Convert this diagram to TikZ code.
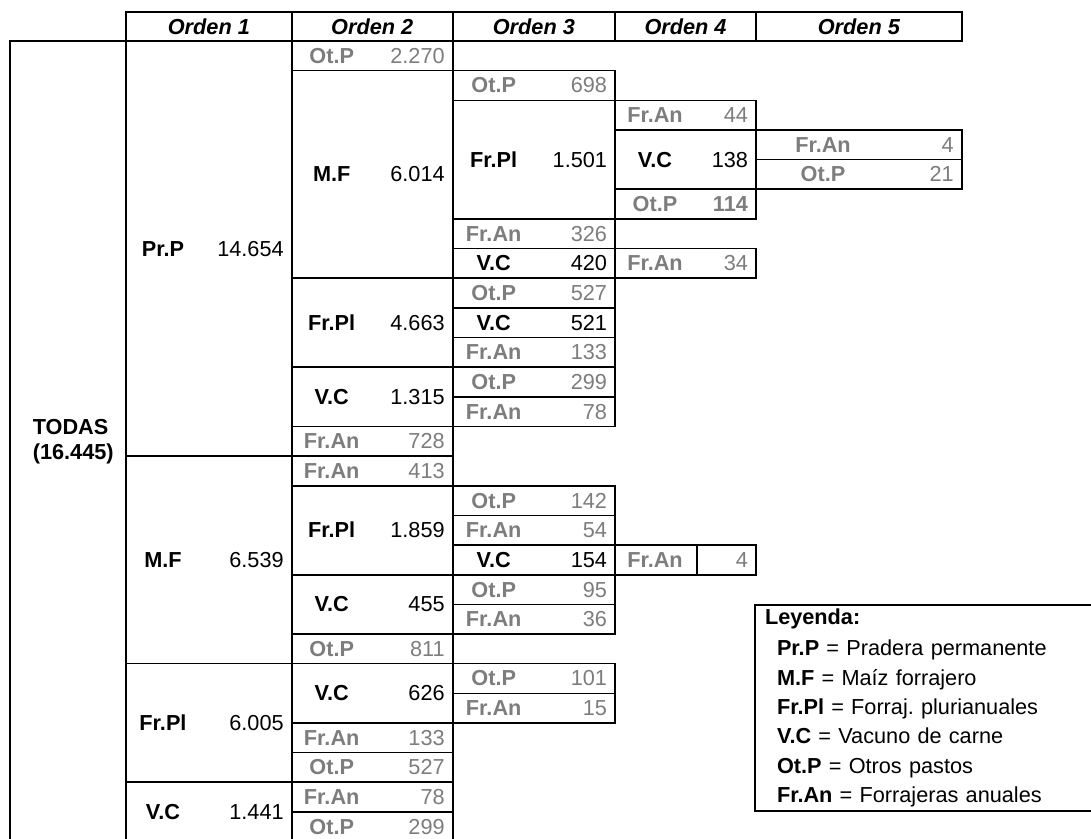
\documentclass[tikz,border=0pt]{standalone}
\usepackage{fontspec}
\setmainfont{Liberation Sans}
\usepackage{xcolor}
\usepackage{tikz}
\usetikzlibrary{positioning}
\definecolor{gris}{RGB}{125,125,125}
\newcommand{\tabla}{\fontsize{21.7pt}{25pt}\selectfont}
\newcommand{\leyfont}{\fontsize{21.7pt}{29.4pt}\selectfont}
\newlength{\fila}
\setlength{\fila}{29.65pt}
\newlength{\anchoetq}
\newcommand{\etq}[1]{\makebox[\anchoetq][c]{\bfseries #1}\hfill}
\frenchspacing

\begin{document}
\begin{tikzpicture}[x=1pt, y=-1pt, line width=1.6pt,
    celda/.style={draw, rectangle, anchor=north west, outer sep=0pt, inner xsep=8pt,
                  inner ysep=0pt, minimum height=\fila, font=\tabla},
    filas/.style={minimum height=#1\fila},
    o1/.style={celda, minimum width=165.7pt, text width=149.7pt,
               execute at begin node={\setlength{\anchoetq}{58pt}}},
    o2/.style={celda, minimum width=161pt, text width=145pt,
               execute at begin node={\setlength{\anchoetq}{64pt}}},
    o3/.style={celda, minimum width=162.3pt, text width=146.3pt,
               execute at begin node={\setlength{\anchoetq}{66pt}}},
    o4/.style={celda, minimum width=141pt, text width=125pt,
               execute at begin node={\setlength{\anchoetq}{64pt}}},
    o5/.style={celda, minimum width=205.7pt, text width=189.7pt,
               execute at begin node={\setlength{\anchoetq}{118pt}}},
    hoja/.style={text=gris},
    cabecera/.style={draw, rectangle, anchor=north west, outer sep=0pt, inner sep=0pt,
                     minimum height=29pt, font=\tabla\bfseries\itshape}]

\path[use as bounding box, clip] (0,0) rectangle (1091,838);

% Cabecera
\node (cab1) [cabecera, minimum width=165.7pt] at (126,12)       {Orden 1};
\node (cab2) [cabecera, minimum width=161pt]   at (cab1.north east) {Orden 2};
\node (cab3) [cabecera, minimum width=162.3pt] at (cab2.north east) {Orden 3};
\node (cab4) [cabecera, minimum width=141pt]   at (cab3.north east) {Orden 4};
\node (cab5) [cabecera, minimum width=205.7pt] at (cab4.north east) {Orden 5};

% Raiz
\node (todas) [celda, minimum width=116pt, filas=27,
    label={[anchor=west, xshift=22pt, inner sep=0pt, align=left, font=\tabla\bfseries]west:TODAS\\(16.445)}]
    at (10,41) {};

% Orden 1
\node (pr) [o1, filas=14] at (todas.north east) {\etq{Pr.P}14.654};
\node (mf) [o1, filas=7]  at (pr.south west)    {\etq{M.F}6.539};
\node (pl) [o1, filas=4]  at (mf.south west)    {\etq{Fr.Pl}6.005};
\node (vc) [o1, filas=2]  at (pl.south west)    {\etq{V.C}1.441};

% Orden 2
\node (pr-ot) [o2, hoja]    at (pr.north east)    {\etq{Ot.P}2.270};
\node (pr-mf) [o2, filas=7] at (pr-ot.south west) {\etq{M.F}6.014};
\node (pr-pl) [o2, filas=3] at (pr-mf.south west) {\etq{Fr.Pl}4.663};
\node (pr-vc) [o2, filas=2] at (pr-pl.south west) {\etq{V.C}1.315};
\node (pr-an) [o2, hoja]    at (pr-vc.south west) {\etq{Fr.An}728};

\node (mf-an) [o2, hoja]    at (mf.north east)    {\etq{Fr.An}413};
\node (mf-pl) [o2, filas=3] at (mf-an.south west) {\etq{Fr.Pl}1.859};
\node (mf-vc) [o2, filas=2] at (mf-pl.south west) {\etq{V.C}455};
\node (mf-ot) [o2, hoja]    at (mf-vc.south west) {\etq{Ot.P}811};

\node (pl-vc) [o2, filas=2] at (pl.north east)    {\etq{V.C}626};
\node (pl-an) [o2, hoja]    at (pl-vc.south west) {\etq{Fr.An}133};
\node (pl-ot) [o2, hoja]    at (pl-an.south west) {\etq{Ot.P}527};

\node (vc-an) [o2, hoja]    at (vc.north east)    {\etq{Fr.An}78};
\node (vc-ot) [o2, hoja]    at (vc-an.south west) {\etq{Ot.P}299};

% Orden 3
\node (pr-mf-ot) [o3, hoja]    at (pr-mf.north east)    {\etq{Ot.P}698};
\node (pr-mf-pl) [o3, filas=4] at (pr-mf-ot.south west) {\etq{Fr.Pl}1.501};
\node (pr-mf-an) [o3, hoja]    at (pr-mf-pl.south west) {\etq{Fr.An}326};
\node (pr-mf-vc) [o3]          at (pr-mf-an.south west) {\etq{V.C}420};

\node (pr-pl-ot) [o3, hoja] at (pr-pl.north east)    {\etq{Ot.P}527};
\node (pr-pl-vc) [o3]       at (pr-pl-ot.south west) {\etq{V.C}521};
\node (pr-pl-an) [o3, hoja] at (pr-pl-vc.south west) {\etq{Fr.An}133};

\node (pr-vc-ot) [o3, hoja] at (pr-vc.north east)    {\etq{Ot.P}299};
\node (pr-vc-an) [o3, hoja] at (pr-vc-ot.south west) {\etq{Fr.An}78};

\node (mf-pl-ot) [o3, hoja] at (mf-pl.north east)    {\etq{Ot.P}142};
\node (mf-pl-an) [o3, hoja] at (mf-pl-ot.south west) {\etq{Fr.An}54};
\node (mf-pl-vc) [o3]       at (mf-pl-an.south west) {\etq{V.C}154};

\node (mf-vc-ot) [o3, hoja] at (mf-vc.north east)    {\etq{Ot.P}95};
\node (mf-vc-an) [o3, hoja] at (mf-vc-ot.south west) {\etq{Fr.An}36};

\node (pl-vc-ot) [o3, hoja] at (pl-vc.north east)    {\etq{Ot.P}101};
\node (pl-vc-an) [o3, hoja] at (pl-vc-ot.south west) {\etq{Fr.An}15};

% Orden 4
\node (pr-mf-pl-an) [o4, hoja]    at (pr-mf-pl.north east)    {\etq{Fr.An}44};
\node (pr-mf-pl-vc) [o4, filas=2] at (pr-mf-pl-an.south west) {\etq{V.C}138};
\node (pr-mf-pl-ot) [o4, hoja]    at (pr-mf-pl-vc.south west) {\etq{Ot.P}\textbf{114}};

\node (pr-mf-vc-an) [o4, hoja] at (pr-mf-vc.north east) {\etq{Fr.An}34};

\node (mf-pl-vc-an) [o4, hoja] at (mf-pl-vc.north east) {\etq{Fr.An}4};
\draw ([xshift=81.7pt]mf-pl-vc-an.north west) -- ([xshift=81.7pt]mf-pl-vc-an.south west);

% Orden 5
\node (pr-mf-pl-vc-an) [o5, hoja] at (pr-mf-pl-vc.north east)    {\etq{Fr.An}4};
\node (pr-mf-pl-vc-ot) [o5, hoja] at (pr-mf-pl-vc-an.south west) {\etq{Ot.P}21};

% Leyenda
\node (leyenda) [draw, rectangle, anchor=north west, outer sep=0pt, inner xsep=10pt, inner ysep=0pt,
    text width=380pt, minimum height=205.7pt, align=left, font=\leyfont] at (755,605)
    {\textbf{Leyenda:}\\[2pt]
     \hspace*{12pt}\textbf{Pr.P} = Pradera permanente\\
     \hspace*{12pt}\textbf{M.F} = Maíz forrajero\\
     \hspace*{12pt}\textbf{Fr.Pl} = Forraj. plurianuales\\
     \hspace*{12pt}\textbf{V.C} = Vacuno de carne\\
     \hspace*{12pt}\textbf{Ot.P} = Otros pastos\\
     \hspace*{12pt}\textbf{Fr.An} = Forrajeras anuales};
\end{tikzpicture}
\end{document}
